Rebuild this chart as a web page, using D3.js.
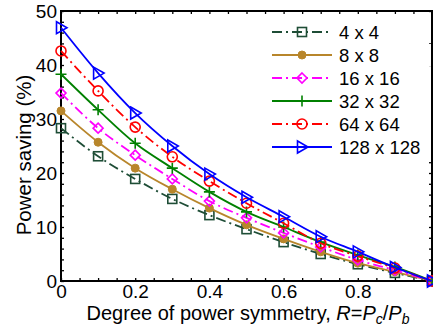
<!DOCTYPE html>
<html>
<head>
<meta charset="utf-8">
<script src="https://cdn.jsdelivr.net/npm/d3@7"></script>
<style>
body { margin: 0; background: #fff; }
text { font-family: "Liberation Sans", Arial, sans-serif; }
</style>
</head>
<body>
<div id="chart"></div>
<script>
var w = 433;
var h = 328;
var margin = {left: 61, right: 1, top: 11, bottom: 47};

var xValues = [0, 0.1, 0.2, 0.3, 0.4, 0.5, 0.6, 0.7, 0.8, 0.9, 1.0];
var s4 = [28.3, 23.1, 18.9, 15.2, 12.2, 9.6, 7.2, 5.0, 3.1, 1.5, 0];
var s8 = [31.5, 25.7, 20.9, 17.0, 13.5, 10.4, 7.8, 5.4, 3.3, 1.7, 0];
var s16 = [34.8, 28.3, 23.3, 18.9, 14.8, 11.7, 8.9, 6.3, 3.9, 2.0, 0];
var s32 = [38.3, 31.7, 25.5, 20.9, 16.5, 12.8, 10.0, 7.2, 4.8, 2.6, 0];
var s64 = [42.6, 35.2, 28.5, 23.0, 18.5, 14.4, 10.7, 7.0, 4.6, 2.4, 0];
var s128 = [46.9, 38.5, 31.1, 25.0, 19.8, 15.5, 11.9, 8.2, 5.4, 2.5, 0];
var seriesNames = ["4 x 4", "8 x 8", "16 x 16", "32 x 32", "64 x 64", "128 x 128"];
var xTicks = [0, 0.2, 0.4, 0.6, 0.8];
var yTicks = [0, 10, 20, 30, 40, 50];

var series = [
	{name: seriesNames[0], values: s4, color: "#1e4d36", dash: "10,4,2,4", marker: "square"},
	{name: seriesNames[1], values: s8, color: "#b8862b", dash: null, marker: "dot"},
	{name: seriesNames[2], values: s16, color: "#ff00ff", dash: "10,4,2,4", marker: "diamond"},
	{name: seriesNames[3], values: s32, color: "#008000", dash: null, marker: "plus"},
	{name: seriesNames[4], values: s64, color: "#ff0000", dash: "10,4,2,4", marker: "circle"},
	{name: seriesNames[5], values: s128, color: "#0000ff", dash: null, marker: "triangle"}
];

var xScale = d3.scaleLinear()
	.domain([0, 1])
	.range([margin.left, w - margin.right]);

var yScale = d3.scaleLinear()
	.domain([0, 50])
	.range([h - margin.bottom, margin.top]);

var svg = d3.select("#chart")
	.append("svg")
	.attr("width", w)
	.attr("height", h);

// minor + major ticks, all four sides, pointing inward
var xMinor = d3.range(0, 1.0001, 0.05);
var yMinor = d3.range(0, 50.001, 2);

svg.append("g")
	.attr("transform", "translate(0," + yScale(0) + ")")
	.call(d3.axisTop(xScale).tickValues(xMinor).tickSize(3).tickFormat(""))
	.call(function (g) { g.select(".domain").remove(); });
svg.append("g")
	.attr("transform", "translate(0," + yScale(50) + ")")
	.call(d3.axisBottom(xScale).tickValues(xMinor).tickSize(3).tickFormat(""))
	.call(function (g) { g.select(".domain").remove(); });
svg.append("g")
	.attr("transform", "translate(" + xScale(0) + ",0)")
	.call(d3.axisRight(yScale).tickValues(yMinor).tickSize(3).tickFormat(""))
	.call(function (g) { g.select(".domain").remove(); });
svg.append("g")
	.attr("transform", "translate(" + xScale(1) + ",0)")
	.call(d3.axisLeft(yScale).tickValues(yMinor).tickSize(3).tickFormat(""))
	.call(function (g) { g.select(".domain").remove(); });

svg.selectAll(".tick line").attr("stroke", "#000").attr("stroke-width", 1.3);

// tick labels
var xAxis = svg.append("g")
	.attr("transform", "translate(0," + yScale(0) + ")")
	.call(d3.axisBottom(xScale).tickValues(xTicks).tickSize(0).tickPadding(4)
		.tickFormat(function (d) { return d === 0 ? "0" : d3.format(".1f")(d); }));
xAxis.select(".domain").remove();
xAxis.selectAll("text")
	.attr("font-size", "19px")
	.attr("font-family", "Liberation Sans, Arial, sans-serif")
	.attr("fill", "#000");

var yAxis = svg.append("g")
	.attr("transform", "translate(" + xScale(0) + ",0)")
	.call(d3.axisLeft(yScale).tickValues(yTicks).tickSize(0).tickPadding(4));
yAxis.select(".domain").remove();
yAxis.selectAll("text")
	.attr("font-size", "19px")
	.attr("font-family", "Liberation Sans, Arial, sans-serif")
	.attr("fill", "#000");

// frame
svg.append("rect")
	.attr("x", xScale(0))
	.attr("y", yScale(50))
	.attr("width", xScale(1) - xScale(0))
	.attr("height", yScale(0) - yScale(50))
	.attr("fill", "none")
	.attr("stroke", "#000")
	.attr("stroke-width", 2);

// axis titles
svg.append("text")
	.attr("transform", "translate(31," + 155 + ") rotate(-90)")
	.attr("text-anchor", "middle")
	.attr("font-size", "20.5px")
	.text("Power saving (%)");

var xTitle = svg.append("text")
	.attr("x", 248)
	.attr("y", 320)
	.attr("text-anchor", "middle")
	.attr("font-size", "20px");
xTitle.append("tspan").text("Degree of power symmetry, ");
xTitle.append("tspan").attr("font-style", "italic").text("R");
xTitle.append("tspan").text("=");
xTitle.append("tspan").attr("font-style", "italic").text("P");
xTitle.append("tspan").attr("font-size", "14px").attr("font-style", "italic").attr("dy", 4).text("c");
xTitle.append("tspan").attr("dy", -4).text("/");
xTitle.append("tspan").attr("font-style", "italic").text("P");
xTitle.append("tspan").attr("font-size", "14px").attr("font-style", "italic").attr("dy", 4).text("b");

// markers
function drawMarker(g, type, color) {
	if (type === "square") {
		g.append("rect").attr("x", -4.5).attr("y", -4.5).attr("width", 9).attr("height", 9)
			.attr("fill", "none").attr("stroke", color).attr("stroke-width", 1.6);
	} else if (type === "dot") {
		g.append("circle").attr("r", 4).attr("fill", color).attr("stroke", color);
	} else if (type === "diamond") {
		g.append("path").attr("d", "M0,-5L5,0L0,5L-5,0Z")
			.attr("fill", "none").attr("stroke", color).attr("stroke-width", 1.6);
	} else if (type === "plus") {
		g.append("path").attr("d", "M-5.5,0H5.5M0,-5.5V5.5")
			.attr("fill", "none").attr("stroke", color).attr("stroke-width", 1.6);
	} else if (type === "circle") {
		g.append("circle").attr("r", 5)
			.attr("fill", "none").attr("stroke", color).attr("stroke-width", 1.6);
	} else if (type === "triangle") {
		g.append("path").attr("d", "M-4.5,-6L6,0L-4.5,6Z")
			.attr("fill", "none").attr("stroke", color).attr("stroke-width", 1.6);
	}
}

var line = d3.line()
	.x(function (d, i) { return xScale(xValues[i]); })
	.y(function (d) { return yScale(d); })
	.curve(d3.curveMonotoneX);

series.forEach(function (s) {
	svg.append("path")
		.datum(s.values)
		.attr("d", line)
		.attr("fill", "none")
		.attr("stroke", s.color)
		.attr("stroke-width", 1.8)
		.attr("stroke-dasharray", s.dash);

	svg.selectAll(null)
		.data(s.values)
		.enter()
		.append("g")
		.attr("transform", function (d, i) {
			return "translate(" + xScale(xValues[i]) + "," + yScale(d) + ")";
		})
		.each(function () { drawMarker(d3.select(this), s.marker, s.color); });
});

// legend
var legend = svg.append("g");
series.forEach(function (s, i) {
	var y = 32 + i * 23;
	var row = legend.append("g");
	row.append("rect")
		.attr("x", 266).attr("y", y - 11).attr("width", 165).attr("height", 22)
		.attr("fill", "#fff");
	row.append("line")
		.attr("x1", 272).attr("x2", 332)
		.attr("y1", y).attr("y2", y)
		.attr("stroke", s.color)
		.attr("stroke-width", 1.8)
		.attr("stroke-dasharray", s.dash);
	drawMarker(row.append("g").attr("transform", "translate(302," + y + ")"), s.marker, s.color);
	row.append("text")
		.attr("x", 339)
		.attr("y", y + 7)
		.attr("font-size", "18.5px")
		.text(s.name);
});
</script>
</body>
</html>
